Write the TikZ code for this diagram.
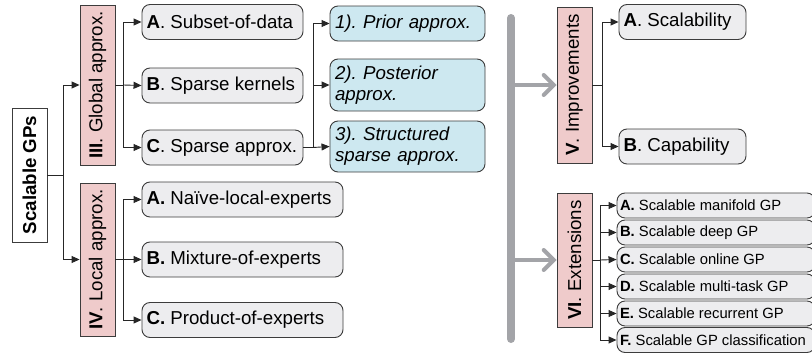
\documentclass[tikz,border=0pt]{standalone}
\usepackage{fontspec}
\setmainfont{Liberation Sans}
\usepackage{graphicx}
\usetikzlibrary{arrows.meta}
\frenchspacing
\definecolor{pinkfill}{RGB}{239,203,203}
\definecolor{bluefill}{RGB}{205,232,240}
\definecolor{grayfill}{RGB}{237,237,239}
\definecolor{edge}{RGB}{60,60,60}
\definecolor{barcol}{RGB}{163,164,168}
\newcommand{\lbx}[2]{\makebox[#1][l]{#2}}
\tikzset{
  x=1pt, y=-1pt,
  base/.style={draw=edge, line width=0.9pt, inner sep=0pt, font=\fontsize{18.7pt}{21pt}\selectfont},
  mainbox/.style={base, fill=white, minimum width=35pt},
  secbox/.style={base, fill=pinkfill, minimum width=35pt},
  graybox/.style={base, fill=grayfill, rounded corners=8pt, minimum height=35pt, inner xsep=4.5pt},
  bluebox/.style={base, fill=bluefill, rounded corners=8pt, align=left, inner xsep=5pt, font=\fontsize{18.7pt}{21pt}\selectfont\itshape},
  smallbox/.style={base, fill=grayfill, rounded corners=8pt, minimum height=25pt, inner xsep=3pt, font=\fontsize{14.8pt}{17pt}\selectfont},
  conn/.style={draw=black!85, line width=0.9pt, -{Triangle[length=8pt,width=7pt]}},
  line/.style={draw=black!85, line width=0.9pt},
  grayarrow/.style={draw=barcol, line width=4pt, -{Straight Barb[length=10pt,width=20pt,line cap=round]}},
}
\begin{document}
\begin{tikzpicture}
\useasboundingbox (0,0) rectangle (812,356);

% root
\node[mainbox, minimum height=134pt] (gps) at (29.5,175) {\rotatebox{90}{\textbf{Scalable GPs}}};

% sections
\node[secbox, minimum height=160pt] (III) at (97.5,85) {\rotatebox{90}{\textbf{III}. Global approx.}};
\node[secbox, minimum height=153pt] (IV) at (97.5,259.5) {\rotatebox{90}{\textbf{IV}. Local approx.}};
\node[secbox, minimum height=156pt] (V) at (574.5,85) {\rotatebox{90}{\textbf{V}. Improvements}};
\node[secbox, minimum height=134pt] (VI) at (574.5,260) {\rotatebox{90}{\textbf{VI}. Extensions}};

% global approx boxes
\node[graybox] (gA) at (222.5,22) {\lbx{152pt}{\textbf{A}. Subset-of-data}};
\node[graybox] (gB) at (222.5,85.5) {\lbx{152pt}{\textbf{B}. Sparse kernels}};
\node[graybox] (gC) at (222.5,147.5) {\lbx{152pt}{\textbf{C}. Sparse approx.}};

% blue boxes
\node[bluebox, text width=145pt, minimum height=35pt] (p1) at (407.5,23.5) {1). Prior approx.};
\node[bluebox, text width=145pt, minimum height=52pt] (p2) at (407.5,85) {2). Posterior\\approx.};
\node[bluebox, text width=145pt, minimum height=51pt] (p3) at (407.5,146.5) {3). Structured\\sparse approx.};

% local approx boxes
\node[graybox] (lA) at (242.5,199.5) {\lbx{192pt}{\textbf{A.} Naïve-local-experts}};
\node[graybox] (lB) at (242.5,259.5) {\lbx{192pt}{\textbf{B.} Mixture-of-experts}};
\node[graybox] (lC) at (242.5,320) {\lbx{192pt}{\textbf{C.} Product-of-experts}};

% improvements boxes
\node[graybox] (vA) at (682.5,22) {\lbx{118pt}{\textbf{A}. Scalability}};
\node[graybox] (vB) at (682.5,146.5) {\lbx{118pt}{\textbf{B}. Capability}};

% extension boxes
\node[smallbox] (eA) at (716,205.5) {\lbx{192pt}{\textbf{A.} Scalable manifold GP}};
\node[smallbox] (eB) at (716,232.5) {\lbx{192pt}{\textbf{B.} Scalable deep GP}};
\node[smallbox] (eC) at (716,259.5) {\lbx{192pt}{\textbf{C.} Scalable online GP}};
\node[smallbox] (eD) at (716,286.5) {\lbx{192pt}{\textbf{D.} Scalable multi-task GP}};
\node[smallbox] (eE) at (716,313.5) {\lbx{192pt}{\textbf{E.} Scalable recurrent GP}};
\node[smallbox] (eF) at (716,340) {\lbx{192pt}{\textbf{F.} Scalable GP classification}};

% junctions
\coordinate (j0) at (63,175);
\coordinate (j1) at (123,85);
\coordinate (j2) at (313,147.5);
\coordinate (j3) at (123,259.5);
\coordinate (j4) at (602,85);
\coordinate (j5) at (600,260);

\draw[line] (gps.east) -- (j0);
\draw[conn] (j0) |- (III.west);
\draw[conn] (j0) |- (IV.west);

\draw[line] (III.east) -- (j1);
\draw[conn] (j1) |- (gA.west);
\draw[conn] (j1) -- (gB.west);
\draw[conn] (j1) |- (gC.west);

\draw[line] (gC.east) -- (j2);
\draw[conn] (j2) |- (p1.west);
\draw[conn] (j2) |- (p2.west);
\draw[conn] (j2) -- (p3.west);

\draw[line] (IV.east) -- (j3);
\draw[conn] (j3) |- (lA.west);
\draw[conn] (j3) -- (lB.west);
\draw[conn] (j3) |- (lC.west);

\draw[line] (V.east) -- (j4);
\draw[conn] (j4) |- (vA.west);
\draw[conn] (j4) |- (vB.west);

\draw[line] (VI.east) -- (j5);
\draw[conn] (j5) |- (eA.west);
\draw[conn] (j5) |- (eB.west);
\draw[conn] (j5) -- (eC.west);
\draw[conn] (j5) |- (eD.west);
\draw[conn] (j5) |- (eE.west);
\draw[conn] (j5) |- (eF.west);

% gray separator bar and arrows
\coordinate (barTop) at (511,18);
\coordinate (barBot) at (511,339);
\coordinate (barV) at (511,85);
\coordinate (barVI) at (511,260);
\draw[draw=barcol, line width=8pt, line cap=round] (barTop) -- (barBot);
\draw[grayarrow] (barV) -- (V.west);
\draw[grayarrow] (barVI) -- (VI.west);
\end{tikzpicture}
\end{document}
